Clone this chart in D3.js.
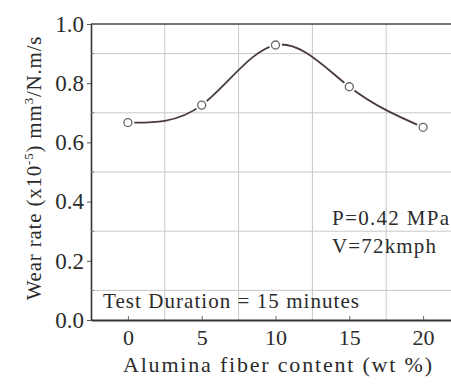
<!DOCTYPE html>
<html>
<head>
<meta charset="utf-8">
<script src="https://cdn.jsdelivr.net/npm/d3@7"></script>
<style>
  body { margin: 0; background: #fff; }
  text { font-family: "Liberation Serif", "Times New Roman", Tinos, "DejaVu Serif", "Noto Serif", serif; fill: #2b2b2b; }
</style>
</head>
<body>
<div id="chart"></div>
<script>
const fiberContent = [0, 5, 10, 15, 20];
const wearRate = [0.667, 0.726, 0.929, 0.788, 0.651];
const xTicks = [0, 5, 10, 15, 20];
const yTicks = [0.0, 0.2, 0.4, 0.6, 0.8, 1.0];
const xGrid = [2.5, 7.5, 12.5, 17.5];
const yGrid = [0.1, 0.3, 0.5, 0.7, 0.9];
const yMinor = [0.1, 0.3, 0.5, 0.7, 0.9];

const width = 451, height = 384;
const margin = { top: 24, left: 91, bottom: 64 };
const serif = "'Liberation Serif', 'Times New Roman', Tinos, 'DejaVu Serif', 'Noto Serif', serif";

const svg = d3.select("#chart").append("svg")
    .attr("width", width)
    .attr("height", height);

const x = d3.scaleLinear()
    .domain([-2.5, 22.5])
    .range([margin.left, 460]);

const y = d3.scaleLinear()
    .domain([0, 1])
    .range([height - margin.bottom, margin.top]);

// grid
svg.append("g").selectAll("line")
    .data(xGrid)
    .enter().append("line")
    .attr("x1", d => x(d)).attr("x2", d => x(d))
    .attr("y1", y(0)).attr("y2", y(1))
    .attr("stroke", "#c8c8c8")
    .attr("stroke-width", 1);

svg.append("g").selectAll("line")
    .data(yGrid)
    .enter().append("line")
    .attr("x1", x(-2.5)).attr("x2", x(22.5))
    .attr("y1", d => y(d)).attr("y2", d => y(d))
    .attr("stroke", "#c8c8c8")
    .attr("stroke-width", 1);

// frame top
svg.append("line")
    .attr("x1", x(-2.5)).attr("x2", x(22.5))
    .attr("y1", y(1)).attr("y2", y(1))
    .attr("stroke", "#444")
    .attr("stroke-width", 1.6);

// x axis
const xAxisGroup = svg.append("g")
    .attr("transform", `translate(0,${y(0)})`)
    .call(d3.axisBottom(x).tickValues(xTicks).tickSize(-4).tickSizeOuter(0).tickPadding(9).tickFormat(d3.format("d")));

xAxisGroup.attr("font-family", null);
xAxisGroup.select(".domain").attr("stroke", "#333").attr("stroke-width", 2);
xAxisGroup.selectAll(".tick line").attr("stroke", "#666");
xAxisGroup.selectAll("text")
    .style("font-family", serif)
    .style("font-size", "22px")
    .attr("fill", "#2b2b2b");

// y axis
const yAxisGroup = svg.append("g")
    .attr("transform", `translate(${x(-2.5)},0)`)
    .call(d3.axisLeft(y).tickValues(yTicks).tickSize(4).tickSizeOuter(0).tickPadding(3).tickFormat(d3.format(".1f")));

yAxisGroup.attr("font-family", null);
yAxisGroup.select(".domain").attr("stroke", "#333").attr("stroke-width", 1.6);
yAxisGroup.selectAll(".tick line").attr("stroke", "#555");
yAxisGroup.selectAll("text")
    .style("font-family", serif)
    .style("font-size", "23px")
    .attr("fill", "#2b2b2b");

svg.append("g").selectAll("line")
    .data(yMinor)
    .enter().append("line")
    .attr("x1", x(-2.5)).attr("x2", x(-2.5) + 3)
    .attr("y1", d => y(d)).attr("y2", d => y(d))
    .attr("stroke", "#777");

// axis titles
svg.append("text")
    .attr("x", 123)
    .attr("y", 372)
    .attr("textLength", 309)
    .attr("lengthAdjust", "spacing")
    .style("font-family", serif)
    .style("font-size", "22px")
    .text("Alumina fiber content (wt %)");

const yTitle = svg.append("text")
    .attr("transform", `translate(41,${168}) rotate(-90)`)
    .style("text-anchor", "middle")
    .style("font-family", serif)
    .style("letter-spacing", "0.8px")
    .style("font-size", "21px");
yTitle.append("tspan").text("Wear rate (x10");
yTitle.append("tspan").attr("dy", -8).style("font-size", "13px").text("-5");
yTitle.append("tspan").attr("dy", 8).text(") mm");
yTitle.append("tspan").attr("dy", -8).style("font-size", "13px").text("3");
yTitle.append("tspan").attr("dy", 8).text("/N.m/s");

// annotations
const note = (tx, ty, len, str) => svg.append("text")
    .attr("x", tx).attr("y", ty)
    .attr("textLength", len)
    .attr("lengthAdjust", "spacing")
    .style("font-family", serif)
    .style("font-size", "21px")
    .text(str);

note(332, 225, 117, "P=0.42 MPa");
note(332, 253, 104, "V=72kmph");
note(103, 308, 256, "Test Duration = 15 minutes");

// curve + markers
const points = fiberContent.map((d, i) => ({ x: d, y: wearRate[i] }));

const line = d3.line()
    .x(d => x(d.x))
    .y(d => y(d.y))
    .curve(d3.curveNatural);

svg.append("path")
    .datum(points)
    .attr("d", line)
    .attr("fill", "none")
    .attr("stroke", "#4a3a3c")
    .attr("stroke-width", 1.8);

svg.selectAll(".marker")
    .data(points)
    .enter().append("circle")
    .attr("class", "marker")
    .attr("cx", d => x(d.x))
    .attr("cy", d => y(d.y))
    .attr("r", 4)
    .attr("fill", "#fff")
    .attr("stroke", "#fff")
    .attr("stroke-width", 5);

svg.selectAll(".marker-ring")
    .data(points)
    .enter().append("circle")
    .attr("class", "marker-ring")
    .attr("cx", d => x(d.x))
    .attr("cy", d => y(d.y))
    .attr("r", 4)
    .attr("fill", "#fff")
    .attr("stroke", "#666")
    .attr("stroke-width", 1.3);
</script>
</body>
</html>
